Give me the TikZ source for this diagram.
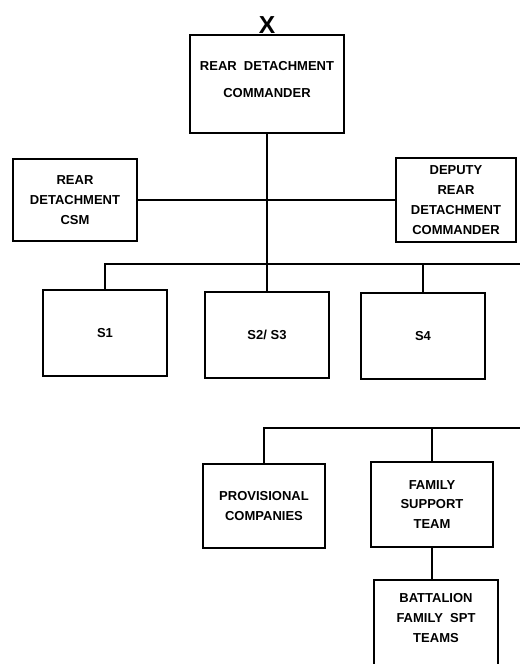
\documentclass[tikz,border=0pt]{standalone}
\usepackage{fontspec}
\setmainfont{Liberation Sans}
\usetikzlibrary{calc}
\tikzset{
	orgbox/.style 2 args={draw, line width=0.8pt, inner sep=0pt, align=center,
		minimum width=#1*0.02cm, minimum height=#2*0.02cm,
		font=\fontsize{7.4}{11.3}\selectfont\bfseries},
	link/.style={line width=0.8pt}
}

\begin{document}
\begin{tikzpicture}[x=0.02cm, y=-0.02cm]
				\clip (0,0) rectangle (520,664);
				
				\node[font=\fontsize{14}{15}\selectfont\bfseries] (flag) at (267,25) {X};
				\node[orgbox={154}{98}, text depth=5.6pt] (rdc) at (267,84) {REAR\ \ DETACHMENT\\[4pt]COMMANDER};
				
				\node[orgbox={124}{82}] (csm) at (75,200) {REAR\\DETACHMENT\\CSM};
				\node[orgbox={120}{84}] (dep) at (456,200) {DEPUTY\\REAR\\DETACHMENT\\COMMANDER};
				\draw[link] (csm.east) -- (dep.west);
				
				\node[orgbox={124}{86}] (s1) at (105,333) {S1};
				\node[orgbox={124}{86}] (s23) at (267,335) {S2/ S3};
				\node[orgbox={124}{86}] (s4) at (423,336) {S4};
				
				\coordinate (staffbus) at (520,264);
				\draw[link] (rdc.south) -- (rdc.south |- s23.north);
				\draw[link] (s1.north) |- (staffbus);
				\draw[link] (s4.north) -- (s4.north |- staffbus);
				
				\node[orgbox={122}{84}] (prov) at (264,506) {PROVISIONAL\\COMPANIES};
				\node[orgbox={122}{85}] (fst) at (432,504.5) {FAMILY\\SUPPORT\\TEAM};
				\node[orgbox={124}{88}, text depth=6.8pt] (bfst) at (436,624) {BATTALION\\FAMILY\ \ SPT\\TEAMS};
				
				\coordinate (famBus) at (520,428);
				\draw[link] (prov.north) |- (famBus);
				\draw[link] (fst.north) -- (fst.north |- famBus);
				\draw[link] (fst.south) -- (fst.south |- bfst.north);
			\end{tikzpicture}
\end{document}
